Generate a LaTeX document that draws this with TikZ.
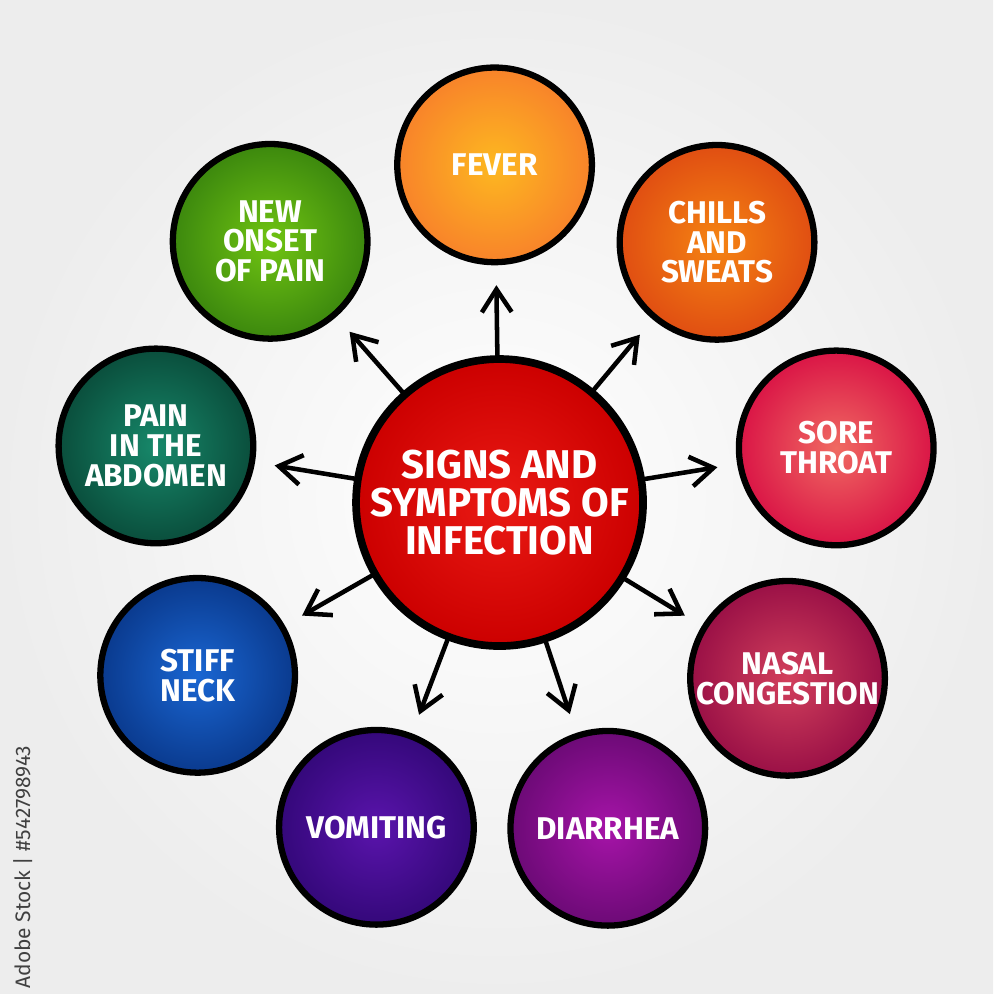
\documentclass[tikz,border=0pt]{standalone}
\usepackage{fontspec}
\setmainfont{Fira Sans}
\usetikzlibrary{arrows.meta}

\definecolor{hubin}{HTML}{EA1A14}
\definecolor{hubout}{HTML}{CC0000}
\definecolor{feverin}{HTML}{FDB820}
\definecolor{feverout}{HTML}{F8832A}
\definecolor{chillsin}{HTML}{F58412}
\definecolor{chillsout}{HTML}{E04E12}
\definecolor{throatin}{HTML}{F06A62}
\definecolor{throatout}{HTML}{DA1546}
\definecolor{nasalin}{HTML}{D2405C}
\definecolor{nasalout}{HTML}{9A1046}
\definecolor{diarin}{HTML}{A614A8}
\definecolor{diarout}{HTML}{6C0A76}
\definecolor{vomitin}{HTML}{5A14AC}
\definecolor{vomitout}{HTML}{34087A}
\definecolor{neckin}{HTML}{1A66D2}
\definecolor{neckout}{HTML}{0A3A8E}
\definecolor{bellyin}{HTML}{17886A}
\definecolor{bellyout}{HTML}{0A4E3C}
\definecolor{onsetin}{HTML}{70C412}
\definecolor{onsetout}{HTML}{3C880E}

\begin{document}
\begin{tikzpicture}[
        bubble/.style={circle, draw=black, line width=1.8pt, minimum size=1.96cm, inner sep=0pt,
            text=white, align=center, font=\bfseries\fontsize{9}{8.5}\selectfont},
        hub/.style={bubble, line width=2.2pt, minimum size=2.89cm, font=\bfseries\fontsize{11.5}{11}\selectfont},
        link/.style={draw, line width=1.3pt, line cap=round, line join=round,
            -{Straight Barb[length=2.3mm, width=3mm]}, shorten >=0.2cm},
        credit/.style={text=black!75, font=\fontsize{6}{7}\selectfont}]

        % background
        \shade [inner color=white, outer color=black!7] (0,0) rectangle (10,10);

        \node [hub, inner color=hubin, outer color=hubout] (center) at (5.03,4.94) {SIGNS AND\\SYMPTOMS OF\\INFECTION};

        \node [bubble, inner color=feverin, outer color=feverout] (fever) at (4.98,8.34) {FEVER};
        \node [bubble, inner color=chillsin, outer color=chillsout] (chills) at (7.22,7.56) {CHILLS\\AND\\SWEATS};
        \node [bubble, inner color=throatin, outer color=throatout] (throat) at (8.42,5.49) {SORE\\THROAT};
        \node [bubble, inner color=nasalin, outer color=nasalout] (nasal) at (7.93,3.17) {NASAL\\CONGESTION};
        \node [bubble, inner color=diarin, outer color=diarout] (diarrhea) at (6.12,1.66) {DIARRHEA};
        \node [bubble, inner color=vomitin, outer color=vomitout] (vomiting) at (3.79,1.67) {VOMITING};
        \node [bubble, inner color=neckin, outer color=neckout] (neck) at (1.99,3.20) {STIFF\\NECK};
        \node [bubble, inner color=bellyin, outer color=bellyout] (belly) at (1.57,5.51) {PAIN\\IN THE\\ABDOMEN};
        \node [bubble, inner color=onsetin, outer color=onsetout] (onset) at (2.72,7.57) {NEW\\ONSET\\OF PAIN};

        \path [link] (center) -- (fever);
        \path [link] (center) -- (chills);
        \path [link] (center) -- (throat);
        \path [link] (center) -- (nasal);
        \path [link] (center) -- (diarrhea);
        \path [link] (center) -- (vomiting);
        \path [link] (center) -- (neck);
        \path [link] (center) -- (belly);
        \path [link] (center) -- (onset);

        \node [credit, rotate=90] (stock) at (0.23,1.27) {Adobe Stock | \#542798943};
    \end{tikzpicture}
\end{document}
